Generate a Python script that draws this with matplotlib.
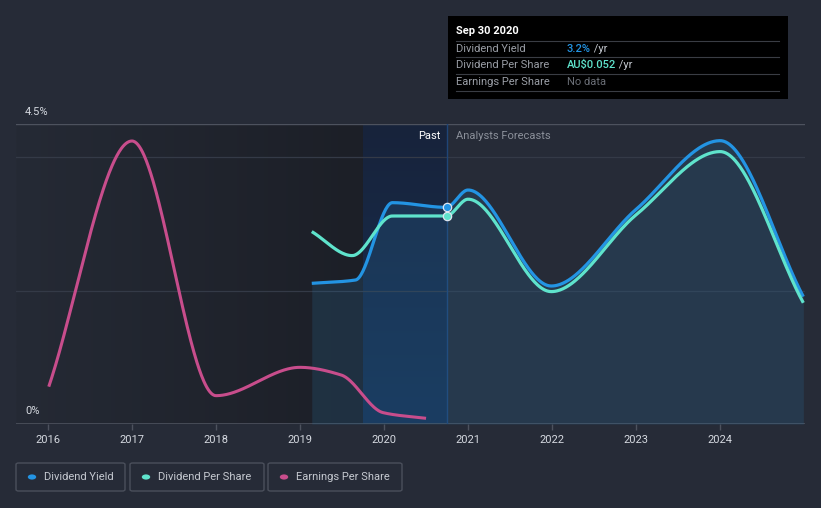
import numpy as np
import matplotlib
matplotlib.use("Agg")
import matplotlib.pyplot as plt
from matplotlib.patches import FancyBboxPatch, Rectangle, Circle
from matplotlib.colors import LinearSegmentedColormap

plt.rcParams['font.family'] = ['Roboto', 'DejaVu Sans']

# ---------------- data ----------------
year_ticks = [2016, 2017, 2018, 2019, 2020, 2021, 2022, 2023, 2024]

yield_years = [2019.14, 2019.66, 2020.1, 2020.74, 2021.0, 2021.99, 2023.0, 2024.0, 2024.99]
yield_pct = [2.11, 2.16, 3.32, 3.25, 3.51, 2.07, 3.22, 4.25, 1.91]

dps_years = [2019.14, 2019.62, 2020.1, 2020.74, 2021.0, 2021.99, 2023.0, 2024.0, 2024.99]
dps_aud = [0.0481, 0.0421, 0.0520, 0.0520, 0.0562, 0.0331, 0.0523, 0.0681, 0.0303]

eps_years = [2016.01, 2017.0, 2018.0, 2019.0, 2019.49, 2019.99, 2020.5]
eps_aud = [0.0112, 0.0849, 0.0085, 0.0170, 0.0147, 0.0034, 0.0017]

now_year = 2020.75
past_split = 2019.744

BG = '#262b37'
C_YIELD = '#2394e3'
C_DPS = '#5fe3cc'
C_EPS = '#c84d8c'


def monotone(x, y, n=500):
    x = np.asarray(x, float); y = np.asarray(y, float)
    h = np.diff(x); d = np.diff(y) / h
    m = np.zeros_like(y)
    m[0] = d[0]; m[-1] = d[-1]
    for k in range(1, len(x) - 1):
        if d[k - 1] * d[k] <= 0:
            m[k] = 0
        else:
            w1 = 2 * h[k] + h[k - 1]; w2 = h[k] + 2 * h[k - 1]
            m[k] = (w1 + w2) / (w1 / d[k - 1] + w2 / d[k])
    xs = np.linspace(x[0], x[-1], n)
    idx = np.clip(np.searchsorted(x, xs) - 1, 0, len(x) - 2)
    t = (xs - x[idx]) / h[idx]
    h00 = 2 * t**3 - 3 * t**2 + 1; h10 = t**3 - 2 * t**2 + t
    h01 = -2 * t**3 + 3 * t**2; h11 = t**3 - t**2
    ys = h00 * y[idx] + h10 * h[idx] * m[idx] + h01 * y[idx + 1] + h11 * h[idx] * m[idx + 1]
    return xs, ys


W, H = 821, 508
fig = plt.figure(figsize=(W / 100, H / 100), dpi=100, facecolor=BG)

def fx(px): return px / W
def fy(py): return 1 - py / H

x0, x1 = 2015.62, 2025.01
ax = fig.add_axes([fx(16), fy(424), fx(805) - fx(16), fy(124) - fy(424)])
ax.set_facecolor(BG)
ax.set_xlim(x0, x1)
ax.set_ylim(0, 4.5)
for s in ax.spines.values():
    s.set_visible(False)
ax.set_yticks([])

# past dark gradient
cmap_dark = LinearSegmentedColormap.from_list('d', ['#252a35', '#1c1f27'])
grad = np.linspace(0, 1, 256).reshape(1, -1)
ax.imshow(grad, extent=[x0, past_split, 0, 4.5], aspect='auto', cmap=cmap_dark, zorder=0)
# blue highlight region (vertical gradient)
cmap_blue = LinearSegmentedColormap.from_list('b', ['#163052', '#18233b'])
gv = np.linspace(0, 1, 256).reshape(-1, 1)
ax.imshow(gv, extent=[past_split, now_year, 0, 4.5], aspect='auto', cmap=cmap_blue,
          origin='lower', zorder=0)

# gridlines
ax.axhline(4.0, color='#343a47', lw=0.9, zorder=1)
ax.axhline(2.0, color='#343a47', lw=0.9, zorder=1)
ax.axhline(4.5, color='#4d525e', lw=1.0, zorder=1)
ax.axhline(0, color='#4d525e', lw=1.2, zorder=1)

# now line
ax.axvline(now_year, color='#1f4577', lw=1.0, zorder=2)

# yield area fill
xs_y, ys_y = monotone(yield_years, yield_pct)
ax.fill_between(xs_y, 0, ys_y, color='#2a6e9e', alpha=0.22, lw=0, zorder=2)

# lines
ax.plot(xs_y, ys_y, color=C_YIELD, lw=2.3, zorder=4, solid_capstyle='butt')

ax2 = ax.twinx()
ax2.set_ylim(0, 0.075)
ax2.axis('off')
xs_d, ys_d = monotone(dps_years, dps_aud)
ax2.plot(xs_d, ys_d, color=C_DPS, lw=2.3, zorder=4, solid_capstyle='butt')

ax3 = ax.twinx()
ax3.set_ylim(0, 0.09)
ax3.axis('off')
xs_e, ys_e = monotone(eps_years, eps_aud)
ax3.plot(xs_e, ys_e, color=C_EPS, lw=2.2, zorder=4, solid_capstyle='butt')

# markers at now
ax.plot([now_year], [yield_pct[3]], 'o', ms=6, mfc=C_YIELD, mec='#dfe6f0', mew=0.9, zorder=6)
ax2.plot([now_year], [dps_aud[3]], 'o', ms=6, mfc=C_DPS, mec='#dfe6f0', mew=0.9, zorder=6)

# x ticks
ax.set_xticks(year_ticks)
ax.set_xticklabels([str(y) for y in year_ticks])
ax.tick_params(axis='x', colors='#4d525e', length=4, width=1, labelcolor='#d5d9e0',
               labelsize=8, pad=4)

# y labels
fig.text(fx(25), fy(112), '4.5%', color='#d5d9e0', fontsize=8, va='center', ha='left')
fig.text(fx(25), fy(411), '0%', color='#d5d9e0', fontsize=8, va='center', ha='left')

# Past / Forecast labels
fig.text(fx(440), fy(136), 'Past', color='#ffffff', fontsize=8, va='center', ha='right')
fig.text(fx(456), fy(136), 'Analysts Forecasts', color='#8b909a', fontsize=8, va='center', ha='left')

# tooltip
fig.patches.append(Rectangle((fx(448), fy(99)), fx(788) - fx(448), fy(16) - fy(99),
                             transform=fig.transFigure, facecolor='#000000', edgecolor='none', zorder=10))
fig.text(fx(456), fy(31), 'Sep 30 2020', color='#ffffff', fontsize=8, fontweight='bold',
         va='center', ha='left', zorder=11)
for py in [41, 57, 74, 91]:
    fig.lines.append(plt.Line2D([fx(456), fx(779)], [fy(py), fy(py)], transform=fig.transFigure,
                                color='#3a3d44', lw=0.8, zorder=11))
rows = [('Dividend Yield', '3.2%', C_YIELD, ' /yr'),
        ('Dividend Per Share', 'AU$0.052', C_DPS, ' /yr'),
        ('Earnings Per Share', 'No data', '#6b6f77', '')]
for i, (lab, val, col, suf) in enumerate(rows):
    yy = fy(48.5 + i * 16.8)
    fig.text(fx(456), yy, lab, color='#9a9ea6', fontsize=8, va='center', ha='left', zorder=11)
    t = fig.text(fx(567), yy, val, color=col, fontsize=8, va='center', ha='left', zorder=11,
                 fontweight='medium' if suf else 'normal')
    if suf:
        fig.canvas.draw()
        bb = t.get_window_extent()
        fig.text(bb.x1 / W, yy, suf, color='#c5c9d0', fontsize=8, va='center', ha='left', zorder=11)

# legend
legend_items = [('Dividend Yield', C_YIELD, 16, 125),
                ('Dividend Per Share', C_DPS, 130, 264),
                ('Earnings Per Share', C_EPS, 268, 402)]
for lab, col, a, b in legend_items:
    fig.patches.append(FancyBboxPatch((fx(a), fy(491)), fx(b) - fx(a), fy(463) - fy(491),
                                      boxstyle='round,pad=0,rounding_size=0.003',
                                      transform=fig.transFigure, facecolor='none',
                                      edgecolor='#4a4f5b', lw=1.0))
    fig.patches.append(Circle((fx(a + 16), fy(477)), 4.2 / W, transform=fig.transFigure,
                              facecolor=col, edgecolor='none'))
    fig.text(fx(a + 28), fy(477.5), lab, color='#c5c9d0', fontsize=8, va='center', ha='left')

fig.savefig('out.png', dpi=100, facecolor=BG)
